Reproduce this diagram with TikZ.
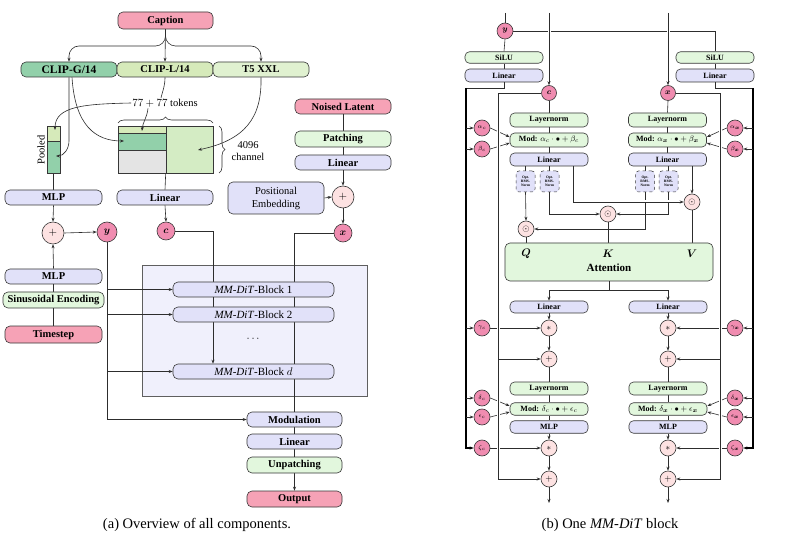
\documentclass[tikz,border=0pt]{standalone}
\usepackage{fontspec}
\setmainfont{Liberation Serif}
\usepackage{amsmath}
\usetikzlibrary{arrows.meta,decorations.pathreplacing,calc}
\definecolor{cPink}{RGB}{246,162,182}
\definecolor{cGrn}{RGB}{226,247,221}
\definecolor{cLav}{RGB}{225,225,249}
\definecolor{cClipG}{RGB}{146,208,170}
\definecolor{cClipL}{RGB}{214,234,186}
\definecolor{cTfive}{RGB}{224,241,208}
\definecolor{cTmat}{RGB}{212,236,196}
\definecolor{cGray}{RGB}{228,228,228}
\definecolor{cOp}{RGB}{253,226,226}
\definecolor{cVar}{RGB}{240,140,176}
\definecolor{cBig}{RGB}{240,240,252}
\definecolor{cBd}{RGB}{55,55,55}
\definecolor{cLn}{RGB}{45,45,45}
\pgfdeclarelayer{back}
\pgfdeclarelayer{lines}
\pgfsetlayers{back,lines,main}
\begin{document}
\begin{tikzpicture}[x=1pt,y=-1pt,
  >={Stealth[length=4pt,width=3pt]},
  nbox/.style={draw=cBd, line width=0.6pt, rounded corners=5pt, inner sep=0pt,
    font=\fontsize{10.5}{12}\selectfont\bfseries, minimum width=96pt, minimum height=15pt},
  lav/.style={nbox, fill=cLav},
  grn/.style={nbox, fill=cGrn},
  pnk/.style={nbox, fill=cPink},
  sbox/.style={nbox, font=\fontsize{8}{9}\selectfont\bfseries, minimum width=78pt, minimum height=13pt, rounded corners=4.5pt},
  slav/.style={sbox, fill=cLav},
  sgrn/.style={sbox, fill=cGrn},
  ncell/.style={draw=cBd, line width=0.6pt, inner sep=0pt, rectangle},
  opc/.style={circle, draw=cBd, fill=cOp, line width=0.6pt, inner sep=0pt, minimum size=16pt, font=\fontsize{9}{10}\selectfont},
  varc/.style={circle, draw=cBd, fill=cVar, line width=0.6pt, inner sep=0pt, minimum size=16pt, font=\fontsize{8}{9}\selectfont},
  grk/.style={varc, font=\fontsize{6}{7}\selectfont},
  rmsbox/.style={draw=cBd, dashed, line width=0.5pt, fill=cLav, rounded corners=3pt, minimum width=19pt, minimum height=21pt, inner sep=0pt, align=center, font=\fontsize{3.6}{4}\selectfont\bfseries},
  txt/.style={font=\fontsize{10.5}{12}\selectfont, inner sep=1pt},
  wire/.style={line width=0.6pt, draw=cLn},
  arr/.style={wire, ->},
  bus/.style={line width=1.3pt, draw=black},
  brc/.style={wire, decorate, decoration={brace, amplitude=6pt}},
  hop/.style={preaction={draw=white, line width=3pt, arrows=-, shorten <=4pt, shorten >=4pt}}
]
\useasboundingbox (0,0) rectangle (795,545);
\begin{pgfonlayer}{back}
\fill[white] (0,0) rectangle (795,545);
\draw[fill=cBig, draw=cBd!80, line width=0.6pt] (142,265) rectangle (367,396);
\end{pgfonlayer}

% ================= (a) =================
\node[pnk, minimum width=95pt, minimum height=17pt] (cap) at (165.5,20.5) {Caption};
\node[nbox, fill=cClipG, font=\fontsize{11.5}{13}\selectfont\bfseries] (clipg) at (69,69.5) {CLIP-G/14};
\node[nbox, fill=cClipL] (clipl) at (165,69.5) {CLIP-L/14};
\node[nbox, fill=cTfive] (t5) at (261,69.5) {T5 XXL};
\node[txt] (tok) at (165,103) {$77+77$ tokens};
\coordinate (capmid) at (0,46);

\node[ncell, fill=cClipL, minimum width=13pt, minimum height=15pt] (pt) at (53.5,133.5) {};
\node[ncell, fill=cClipG, minimum width=13pt, minimum height=32pt] (pb) at (53.5,157) {};
\node[txt, rotate=90] (pooled) at (41,150) {Pooled};

\node[ncell, fill=cClipL, minimum width=48pt, minimum height=7pt] (m1) at (142,129.5) {};
\node[ncell, fill=cClipG, minimum width=48pt, minimum height=17pt] (m2) at (142,141.5) {};
\node[ncell, fill=cGray, minimum width=48pt, minimum height=23pt] (m3) at (142,161.5) {};
\node[ncell, fill=cTmat, minimum width=47pt, minimum height=47pt] (m4) at (189.5,149.5) {};
\draw[brc] (118,123) -- (213,123);
\draw[brc] (219,126) -- (219,173);
\node[txt, align=center] (chan) at (248,151) {4096\\channel};

\node[lav, minimum width=97pt] (mlpa) at (53.5,197.5) {MLP};
\node[lav] (lina) at (165,197.5) {Linear};
\node[opc, minimum size=22pt, font=\fontsize{11}{12}\selectfont] (plusa) at (53,233) {$+$};
\node[varc, minimum size=20pt, font=\fontsize{10}{11}\selectfont] (ya) at (107,232) {$\boldsymbol{y}$};
\node[varc, minimum size=18pt, font=\fontsize{10}{11}\selectfont] (ca) at (166,231) {$\boldsymbol{c}$};
\node[lav, minimum width=97pt] (mlpb) at (53.5,276.5) {MLP};
\node[grn, minimum width=101pt, minimum height=16pt] (sin) at (53.5,300) {Sinusoidal Encoding};
\node[pnk, minimum width=97pt, minimum height=17pt] (ts) at (53.5,334.5) {Timestep};

\node[pnk, minimum height=15pt] (nl) at (343,106.5) {Noised Latent};
\node[grn, minimum height=16pt] (patch) at (343,139) {Patching};
\node[lav] (linb) at (343,162.5) {Linear};
\node[lav, minimum height=32pt, align=center, font=\fontsize{10.5}{13}\selectfont] (pe) at (276,198) {Positional\\Embedding};
\node[opc, minimum size=22pt, font=\fontsize{11}{12}\selectfont] (plusb) at (343,197) {$+$};
\node[varc, minimum size=18pt, font=\fontsize{10}{11}\selectfont] (xa) at (343,233) {$\boldsymbol{x}$};

\node[lav, minimum width=161pt, font=\fontsize{11}{12}\selectfont] (b1) at (253.5,289.5) {\textit{MM-DiT}-Block 1};
\node[lav, minimum width=161pt, font=\fontsize{11}{12}\selectfont] (b2) at (253.5,314.5) {\textit{MM-DiT}-Block 2};
\node[font=\fontsize{11}{12}\selectfont] (dots) at (254,339) {$\cdots$};
\node[lav, minimum width=161pt, font=\fontsize{11}{12}\selectfont] (bd) at (253.5,371.5) {\textit{MM-DiT}-Block $d$};

\node[lav, minimum width=95pt] (moda) at (294.5,419.5) {Modulation};
\node[lav, minimum width=95pt] (linc0) at (294.5,441.5) {Linear};
\node[grn, minimum width=95pt, minimum height=16pt] (unp) at (294.5,465) {Unpatching};
\node[pnk, minimum width=95pt, minimum height=16pt] (outp) at (294.5,499) {Output};

\node[font=\fontsize{14.5}{16}\selectfont] (capa) at (197,525) {(a) Overview of all components.};

\coordinate (cline) at (213,0);

\begin{pgfonlayer}{lines}
\draw[arr, rounded corners=10pt] (cap.south) |- (clipg.north |- capmid) -- (clipg.north);
\draw[arr, rounded corners=10pt] (cap.south) |- (t5.north |- capmid) -- (t5.north);
\draw[arr] (cap.south) -- (clipl.north);
\draw[wire] (clipl.south) to[out=-90,in=75] ([xshift=-4pt]tok.north);
\draw[wire] (pb.south) -- (mlpa.north);
\draw[arr] (mlpa.south) -- (plusa.north);
\draw[arr] (lina.south) -- (ca.north);
\draw[arr] (plusa.east) -- (ya.west);
\draw[arr] (mlpb.north) -- (plusa.south);
\draw[wire] (sin.north) -- (mlpb.south);
\draw[wire] (ts.north) -- (sin.south);
\draw[arr] (ya.south) |- (moda.west);
\draw[arr] (ya |- b1.west) -- (b1.west);
\draw[arr] (ya |- b2.west) -- (b2.west);
\draw[arr] (ya |- bd.west) -- (bd.west);
\draw[arr] (ca.east) -| (cline |- bd.north);
\draw[wire] (xa.west) -| (moda.north);
\draw[wire] (nl.south) -- (patch.north);
\draw[wire] (patch.south) -- (linb.north);
\draw[arr] (linb.south) -- (plusb.north);
\draw[arr] (pe.east) -- (plusb.west);
\draw[arr] (plusb.south) -- (xa.north);
\draw[wire] (moda.south) -- (linc0.north);
\draw[wire] (linc0.south) -- (unp.north);
\draw[arr] (unp.south) -- (outp.north);
\draw[wire] (m4.south west) -- (lina.north);
\end{pgfonlayer}

\draw[arr] (tok.west) .. controls (85,104) and (55,106) .. (55,130);
\draw[arr] ([xshift=-17pt]tok.south) to[out=-95,in=85] (142,131);
\draw[arr] (clipg.south) -- (69,141) to[out=-90,in=0] (56,156);
\draw[arr] ([xshift=3pt]clipg.south) .. controls (75,125) and (95,141) .. (124,141);
\draw[arr] (t5.south) .. controls (262,118) and (245,140) .. (198,150);

% ================= (b) =================
\coordinate (yTop) at (505,13);
\coordinate (cTop) at (549,13);
\coordinate (xTop) at (668,13);
\node[varc] (yR) at (505,31) {$\boldsymbol{y}$};
\node[sgrn, minimum height=11.5pt] (silu) at (504,57.5) {SiLU};
\node[slav] (liny) at (504,75.5) {Linear};
\node[sgrn, minimum height=11.5pt] (silu2) at (715,57.5) {SiLU};
\node[slav] (liny2) at (715,75.5) {Linear};
\node[varc, minimum size=15pt] (cR) at (549,93) {$\boldsymbol{c}$};
\node[varc, minimum size=15pt] (xR) at (668,93) {$\boldsymbol{x}$};

\node[sgrn, minimum height=14pt] (lnc) at (549,120) {Layernorm};
\node[sgrn, minimum height=14pt] (modc) at (549,140) {Mod: $\alpha_c\cdot\bullet+\beta_c$};
\node[slav] (linc) at (549,159.5) {Linear};
\node[sgrn, minimum height=14pt] (lnx) at (667.5,120) {Layernorm};
\node[sgrn, minimum height=14pt] (modx) at (667.5,140) {Mod: $\alpha_{\boldsymbol{x}}\cdot\bullet+\beta_{\boldsymbol{x}}$};
\node[slav] (linx) at (667.5,159.5) {Linear};

\node[rmsbox] (r1c) at (525.5,181.5) {Opt.\\RMS-\\Norm};
\node[rmsbox] (r2c) at (549.5,181.5) {Opt.\\RMS-\\Norm};
\node[rmsbox] (r1x) at (645,181.5) {Opt.\\RMS-\\Norm};
\node[rmsbox] (r2x) at (668.5,181.5) {Opt.\\RMS-\\Norm};

\node[opc] (qc) at (526,229) {$\odot$};
\node[opc] (kc) at (608,214) {$\odot$};
\node[opc] (vc) at (692,202) {$\odot$};

\node[draw=cBd, line width=0.6pt, fill=cGrn, rounded corners=5pt, minimum width=208pt, minimum height=38pt, inner sep=0pt] (att) at (609,262) {};
\node[font=\fontsize{11}{12}\selectfont] (ql) at (526,254) {$\boldsymbol{Q}$};
\node[font=\fontsize{11}{12}\selectfont] (kl) at (608,254) {$\boldsymbol{K}$};
\node[font=\fontsize{11}{12}\selectfont] (vl) at (692,254) {$\boldsymbol{V}$};
\node[font=\fontsize{11}{12}\selectfont\bfseries] (attl) at (609,268) {Attention};

\node[slav, minimum height=12pt] (lin2c) at (549,307) {Linear};
\node[slav, minimum height=12pt] (lin2x) at (668,307) {Linear};
\node[opc] (sc) at (549,328) {$*$};
\node[opc] (sx) at (668,328) {$*$};
\node[opc] (pc) at (549,359) {$+$};
\node[opc] (px) at (668,359) {$+$};
\node[sgrn] (ln2c) at (549,388.5) {Layernorm};
\node[sgrn, minimum height=12.5pt] (mod2c) at (549,409) {Mod: $\delta_c\cdot\bullet+\epsilon_c$};
\node[slav, minimum height=12.5pt] (mlpc) at (549,427) {MLP};
\node[sgrn] (ln2x) at (668,388.5) {Layernorm};
\node[sgrn, minimum height=12.5pt] (mod2x) at (668,409) {Mod: $\delta_{\boldsymbol{x}}\cdot\bullet+\epsilon_{\boldsymbol{x}}$};
\node[slav, minimum height=12.5pt] (mlpx) at (668,427) {MLP};
\node[opc] (s2c) at (549,448) {$*$};
\node[opc] (s2x) at (668,448) {$*$};
\node[opc] (p2c) at (549,479) {$+$};
\node[opc] (p2x) at (668,479) {$+$};
\coordinate (endc) at (549,503);
\coordinate (endx) at (668,503);

\node[grk] (ac) at (482,128) {$\alpha_c$};
\node[grk] (bc) at (482,149) {$\beta_c$};
\node[grk] (gc) at (482,328) {$\gamma_c$};
\node[grk] (dc) at (482,398) {$\delta_c$};
\node[grk] (ec) at (482,417) {$\epsilon_c$};
\node[grk] (zc) at (482,448) {$\zeta_c$};
\node[grk] (ax) at (735,128) {$\alpha_{\boldsymbol{x}}$};
\node[grk] (bx) at (735,149) {$\beta_{\boldsymbol{x}}$};
\node[grk] (gx) at (735,328) {$\gamma_{\boldsymbol{x}}$};
\node[grk] (dx) at (735,398) {$\delta_{\boldsymbol{x}}$};
\node[grk] (ex) at (735,417) {$\epsilon_{\boldsymbol{x}}$};
\node[grk] (zx) at (735,448) {$\zeta_{\boldsymbol{x}}$};

\node[font=\fontsize{14.5}{16}\selectfont] (capb) at (610,525) {(b) One \textit{MM-DiT} block};

\coordinate (bL) at (466,88);
\coordinate (bR) at (753,88);
\coordinate (resL) at (498,0);
\coordinate (resR) at (720,0);
\coordinate (vcx) at (573,0);

\begin{pgfonlayer}{lines}
% top
\draw[wire] (yR.east) -| (silu2.north);
\draw[wire] (yTop) -- (yR.north);
\draw[arr, hop] (cTop) -- (cR.north);
\draw[arr, hop] (xTop) -- (xR.north);
\draw[wire] (yR.south) -- (silu.north);
\draw[wire] (silu.south) -- (liny.north);
\draw[wire] (silu2.south) -- (liny2.north);
% buses
\draw[wire] (liny.south) |- (bL);
\draw[bus, ->] (bL) |- (zc.west);
\draw[wire] (liny2.south) |- (bR);
\draw[bus, ->] (bR) |- (zx.east);
\foreach \n in {ac,bc,gc,dc,ec} {\draw[arr] (\n.west -| bL) -- (\n.west);}
\foreach \n in {ax,bx,gx,dx,ex} {\draw[arr] (\n.east -| bR) -- (\n.east);}
% modulation inputs
\draw[arr] (ac.east) -- ([yshift=3pt]modc.west);
\draw[arr] (bc.east) -- ([yshift=-3pt]modc.west);
\draw[arr] (ax.west) -- ([yshift=3pt]modx.east);
\draw[arr] (bx.west) -- ([yshift=-3pt]modx.east);
\draw[arr] (gc.east) -- (sc.west);
\draw[arr] (gx.west) -- (sx.east);
\draw[arr] (dc.east) -- ([yshift=3pt]mod2c.west);
\draw[arr] (ec.east) -- ([yshift=-3pt]mod2c.west);
\draw[arr] (dx.west) -- ([yshift=3pt]mod2x.east);
\draw[arr] (ex.west) -- ([yshift=-3pt]mod2x.east);
\draw[arr] (zc.east) -- (s2c.west);
\draw[arr] (zx.west) -- (s2x.east);
% residuals
\draw[arr, hop] (cR.west) -| (resL |- p2c.west) -- (p2c.west);
\draw[arr] (resL |- pc.west) -- (pc.west);
\draw[arr, hop] (xR.east) -| (resR |- p2x.east) -- (p2x.east);
\draw[arr] (resR |- px.east) -- (px.east);
% main chains
\draw[wire] (cR.south) -- (lnc.north);
\draw[wire] (lnc.south) -- (modc.north);
\draw[wire] (modc.south) -- (linc.north);
\draw[wire] (xR.south) -- (lnx.north);
\draw[wire] (lnx.south) -- (modx.north);
\draw[wire] (modx.south) -- (linx.north);
\draw[wire] (linc.south -| r1c) -- (r1c.north);
\draw[wire] (linc.south -| r2c) -- (r2c.north);
\draw[wire] (linx.south -| r1x) -- (r1x.north);
\draw[wire] (linx.south -| r2x) -- (r2x.north);
\draw[arr] (r1c.south) -- (qc.north);
\draw[arr] (r2c.south) |- (kc.west);
\draw[arr] (r1x.south) |- (qc.east);
\draw[arr] (r2x.south) |- (kc.east);
\draw[arr, hop] (linc.south -| vcx) |- (vc.west);
\draw[arr] (linx.south -| vc) -- (vc.north);
\draw[wire] (qc.south) -- (qc.south |- att.north);
\draw[wire] (kc.south) -- (kc.south |- att.north);
\draw[wire] (vc.south) -- (vc.south |- att.north);
\draw[arr] (att.south) -- ++(0,9) -| (lin2c.north);
\draw[arr] (att.south) -- ++(0,9) -| (lin2x.north);
\draw[arr] (lin2c.south) -- (sc.north);
\draw[arr] (sc.south) -- (pc.north);
\draw[wire] (pc.south) -- (ln2c.north);
\draw[wire] (ln2c.south) -- (mod2c.north);
\draw[wire] (mod2c.south) -- (mlpc.north);
\draw[arr] (mlpc.south) -- (s2c.north);
\draw[arr] (s2c.south) -- (p2c.north);
\draw[arr] (p2c.south) -- (endc);
\draw[arr] (lin2x.south) -- (sx.north);
\draw[arr] (sx.south) -- (px.north);
\draw[wire] (px.south) -- (ln2x.north);
\draw[wire] (ln2x.south) -- (mod2x.north);
\draw[wire] (mod2x.south) -- (mlpx.north);
\draw[arr] (mlpx.south) -- (s2x.north);
\draw[arr] (s2x.south) -- (p2x.north);
\draw[arr] (p2x.south) -- (endx);
\end{pgfonlayer}
\end{tikzpicture}
\end{document}
